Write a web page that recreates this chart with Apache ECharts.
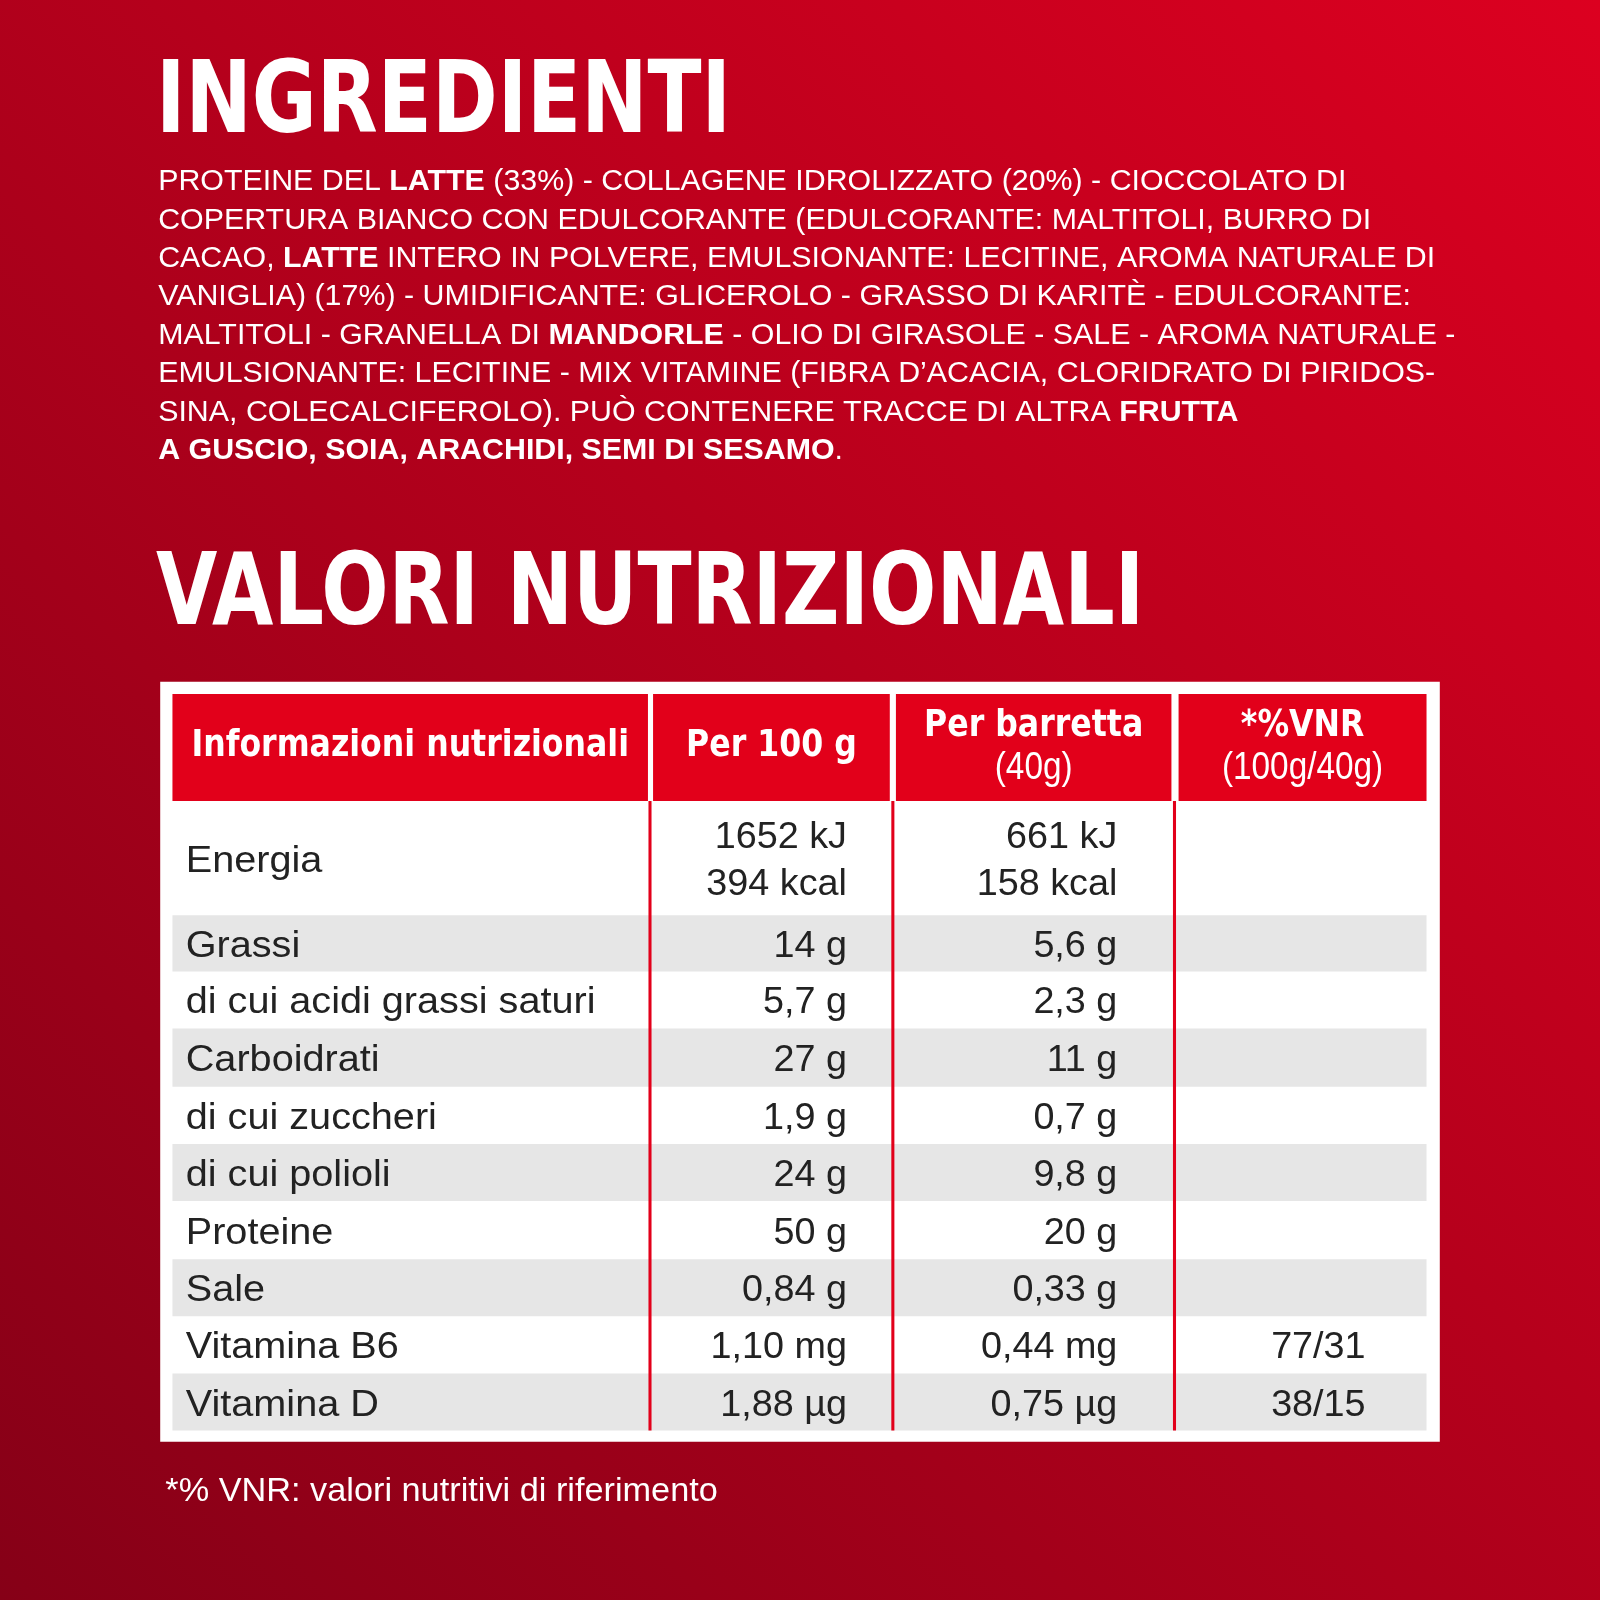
<!DOCTYPE html>
<html><head><meta charset="utf-8">
<script src="https://cdn.jsdelivr.net/npm/echarts@6/dist/echarts.min.js"></script>
<style>html,body{margin:0;padding:0}#c{width:1600px;height:1600px}</style>
</head><body><div id="c"></div>
<script>
var ingredientLines = [
  [["PROTEINE DEL ", 0], ["LATTE", 1], [" (33%) - COLLAGENE IDROLIZZATO (20%) - CIOCCOLATO DI", 0]],
  [["COPERTURA BIANCO CON EDULCORANTE (EDULCORANTE: MALTITOLI, BURRO DI", 0]],
  [["CACAO, ", 0], ["LATTE", 1], [" INTERO IN POLVERE, EMULSIONANTE: LECITINE, AROMA NATURALE DI", 0]],
  [["VANIGLIA) (17%) - UMIDIFICANTE: GLICEROLO - GRASSO DI KARITÈ - EDULCORANTE:", 0]],
  [["MALTITOLI - GRANELLA DI ", 0], ["MANDORLE", 1], [" - OLIO DI GIRASOLE - SALE - AROMA NATURALE -", 0]],
  [["EMULSIONANTE: LECITINE - MIX VITAMINE (FIBRA D’ACACIA, CLORIDRATO DI PIRIDOS-", 0]],
  [["SINA, COLECALCIFEROLO). PUÒ CONTENERE TRACCE DI ALTRA ", 0], ["FRUTTA", 1]],
  [["A GUSCIO, SOIA, ARACHIDI, SEMI DI SESAMO", 1], [".", 0]]
];
var headers = ["Informazioni nutrizionali", "Per 100 g", "{b|Per barretta}\n{n|(40g)}", "{b|*%VNR}\n{n|(100g/40g)}"];
var rowLabels = ["Energia", "Grassi", "di cui acidi grassi saturi", "Carboidrati", "di cui zuccheri", "di cui polioli", "Proteine", "Sale", "Vitamina B6", "Vitamina D"];
var per100 = ["1652 kJ\n394 kcal", "14 g", "5,7 g", "27 g", "1,9 g", "24 g", "50 g", "0,84 g", "1,10 mg", "1,88 µg"];
var perBar = ["661 kJ\n158 kcal", "5,6 g", "2,3 g", "11 g", "0,7 g", "9,8 g", "20 g", "0,33 g", "0,44 mg", "0,75 µg"];
var vnr = ["", "", "", "", "", "", "", "", "77/31", "38/15"];

var bold = '"DejaVu Sans", sans-serif';
var light = '"Liberation Sans", sans-serif';
var g = [];
g.push({type:'text', x:153, y:56, scaleX:0.8, style:{text:'INGREDIENTI', fill:'#fff', font:'bold 97px '+bold}});
ingredientLines.forEach(function(line, i){
  var t = line.map(function(p){ return '{' + (p[1] ? 'b' : 'n') + '|' + p[0] + '}'; }).join('');
  g.push({type:'text', x:155, y:164 + i*37.6, scaleX:1.026, style:{text:t, fill:'#fff', rich:{
    n:{font:'29px '+light, fill:'#fff'}, b:{font:'bold 29px '+light, fill:'#fff'}}}});
});
g.push({type:'text', x:153, y:538, scaleX:0.801, style:{text:'VALORI NUTRIZIONALI', fill:'#fff', font:'bold 97px '+bold}});
g.push({type:'rect', shape:{x:157,y:668,width:1254,height:745}, style:{fill:'#fff'}});
var cols = [[169,635],[640,872],[878,1148],[1155,1398]];
cols.forEach(function(c, i){
  g.push({type:'rect', shape:{x:c[0],y:680,width:c[1]-c[0],height:105}, style:{fill:'#e2001a'}});
  g.push({type:'text', x:(c[0]+c[1])/2, y:732, scaleX:0.86, style:{text:headers[i], fill:'#fff', align:'center', verticalAlign:'middle',
    font:'bold 36px '+bold, lineHeight:42, rich:{b:{font:'bold 36px '+bold, fill:'#fff', lineHeight:42}, n:{font:'38px '+light, fill:'#fff', lineHeight:40}}}});
});
var rowTop = [785,897,952,1008,1065,1121,1177,1234,1290,1346,1402];
for (var r = 0; r < rowLabels.length; r++) {
  var y0 = rowTop[r], y1 = rowTop[r+1], ym = (y0+y1)/2 + 3;
  if (r % 2 === 1) g.push({type:'rect', shape:{x:169,y:y0,width:1229,height:y1-y0}, style:{fill:'#e6e6e6'}});
  var f = '37px '+light;
  g.push({type:'text', x:182, y:ym, scaleX:1.05, style:{text:rowLabels[r], fill:'#222', font:f, verticalAlign:'middle'}});
  g.push({type:'text', x:830, y:ym, style:{text:per100[r], fill:'#222', font:f, align:'right', verticalAlign:'middle', lineHeight:46}});
  g.push({type:'text', x:1095, y:ym, style:{text:perBar[r], fill:'#222', font:f, align:'right', verticalAlign:'middle', lineHeight:46}});
  g.push({type:'text', x:1292, y:ym, style:{text:vnr[r], fill:'#222', font:f, align:'center', verticalAlign:'middle'}});
}
[637,875,1151].forEach(function(x){
  g.push({type:'rect', shape:{x:x-1.5,y:785,width:3,height:617}, style:{fill:'#e2001a'}});
});
g.push({type:'text', x:162, y:1462, scaleX:1.05, style:{text:'*% VNR: valori nutritivi di riferimento', fill:'#fff', font:'32px '+light, verticalAlign:'middle'}});

var s = 1600 / 1568;
var chart = echarts.init(document.getElementById('c'));
chart.setOption({animation:false, graphic:{elements:[
  {type:'rect', shape:{x:0,y:0,width:1600,height:1600}, style:{fill:new echarts.graphic.LinearGradient(1,0,0,1,[{offset:0,color:'#dc0020'},{offset:1,color:'#860017'}])}},
  {type:'group', scaleX:s, scaleY:s, children:g}
]}});
</script></body></html>
